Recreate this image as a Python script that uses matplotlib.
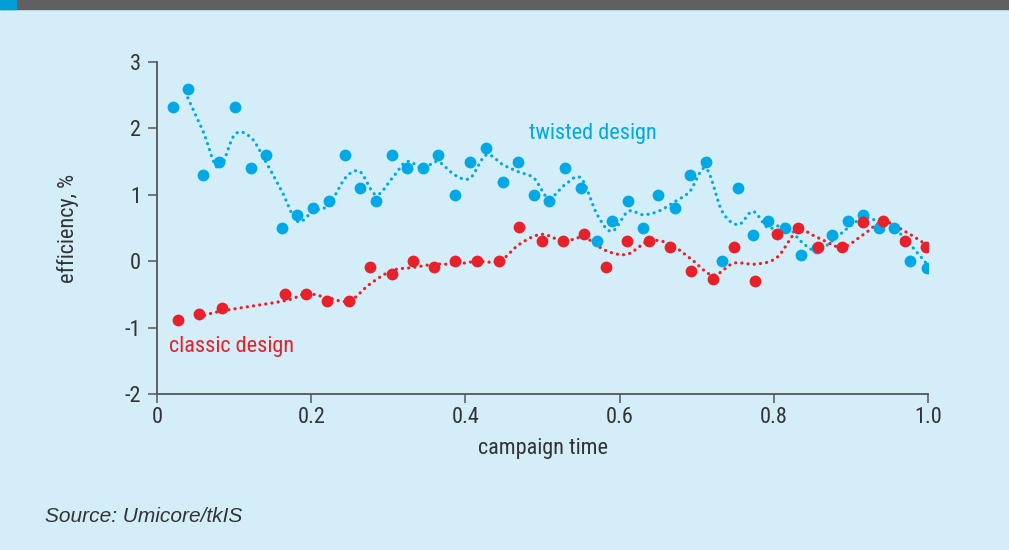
import numpy as np
import pandas as pd
import matplotlib
matplotlib.use('Agg')
from matplotlib import pyplot as plt
from matplotlib.patches import Rectangle
from matplotlib import font_manager

# twisted design (blue)
twisted_x = [0.021, 0.040, 0.060, 0.080, 0.101, 0.122, 0.141, 0.162, 0.182, 0.202,
             0.223, 0.244, 0.263, 0.284, 0.305, 0.324, 0.345, 0.364, 0.386, 0.406,
             0.427, 0.449, 0.468, 0.489, 0.508, 0.529, 0.550, 0.571, 0.590, 0.611,
             0.630, 0.650, 0.672, 0.691, 0.712, 0.733, 0.754, 0.773, 0.793, 0.815,
             0.835, 0.856, 0.875, 0.896, 0.916, 0.936, 0.956, 0.977, 0.999]
twisted_y = [2.32, 2.60, 1.30, 1.50, 2.32, 1.40, 1.60, 0.50, 0.70, 0.80,
             0.90, 1.60, 1.10, 0.90, 1.60, 1.40, 1.40, 1.60, 1.00, 1.50,
             1.70, 1.20, 1.50, 1.00, 0.90, 1.40, 1.10, 0.30, 0.60, 0.90,
             0.50, 1.00, 0.80, 1.30, 1.50, 0.00, 1.10, 0.40, 0.60, 0.50,
             0.10, 0.20, 0.40, 0.60, 0.70, 0.50, 0.50, 0.00, -0.10]

# classic design (red)
classic_x = [0.027, 0.054, 0.084, 0.166, 0.193, 0.220, 0.249, 0.276, 0.305, 0.332,
             0.359, 0.387, 0.415, 0.444, 0.470, 0.499, 0.527, 0.554, 0.582, 0.610,
             0.638, 0.665, 0.693, 0.721, 0.748, 0.776, 0.804, 0.831, 0.857, 0.888,
             0.916, 0.942, 0.970, 0.997]
classic_y = [-0.89, -0.80, -0.70, -0.49, -0.49, -0.60, -0.60, -0.09, -0.19, 0.00,
             -0.09, 0.00, 0.00, 0.00, 0.51, 0.30, 0.30, 0.41, -0.09, 0.30,
             0.31, 0.21, -0.15, -0.27, 0.21, -0.30, 0.41, 0.50, 0.21, 0.21,
             0.59, 0.60, 0.30, 0.21]

x_ticks = [0, 0.2, 0.4, 0.6, 0.8, 1.0]
x_tick_labels = ['0', '0.2', '0.4', '0.6', '0.8', '1.0']
y_ticks = [-2, -1, 0, 1, 2, 3]

BG = '#d3eef9'
BLUE = '#00a8e6'
RED = '#e8202a'
AXC = '#555555'
TXT = '#333333'


def moving_avg(xs, ys):
    # two-period moving average trendline, plotted smooth (Catmull-Rom)
    m = pd.Series(ys).rolling(2).mean().to_numpy()[1:]
    px = np.array(xs[1:])
    pts = np.column_stack([px, m])
    pts = np.vstack([pts[0], pts, pts[-1]])
    out = []
    t = np.linspace(0, 1, 12, endpoint=False)[:, None]
    for i in range(1, len(pts) - 2):
        p0, p1, p2, p3 = pts[i - 1], pts[i], pts[i + 1], pts[i + 2]
        seg = 0.5 * ((2 * p1) + (-p0 + p2) * t
                     + (2 * p0 - 5 * p1 + 4 * p2 - p3) * t ** 2
                     + (-p0 + 3 * p1 - 3 * p2 + p3) * t ** 3)
        out.append(seg)
    out.append(pts[-2][None, :])
    out = np.vstack(out)
    return out[:, 0], out[:, 1]


names = {f.name for f in font_manager.fontManager.ttflist}
narrow = [n for n in ('Liberation Sans Narrow', 'Roboto Condensed', 'DejaVu Sans Condensed')
          if n in names]
plt.rcParams['font.family'] = narrow + ['DejaVu Sans']
plt.rcParams['font.stretch'] = 'condensed'
plt.rcParams['axes.unicode_minus'] = False
FS = 16 if narrow else 14

fig = plt.figure(figsize=(10.09, 5.5), dpi=100, facecolor=BG)
fig.patches.append(Rectangle((0, 1 - 9 / 550), 1, 9 / 550, transform=fig.transFigure,
                             color='#606062', zorder=5))
fig.patches.append(Rectangle((0, 1 - 9 / 550), 16 / 1009, 9 / 550, transform=fig.transFigure,
                             color='#009fda', zorder=6))

ax = fig.add_axes([157 / 1009, 1 - 394 / 550, 771 / 1009, 332 / 550])
ax.set_facecolor(BG)

dot = (0, (0.05, 1.9))
for xs, ys, c in ((twisted_x, twisted_y, BLUE), (classic_x, classic_y, RED)):
    lx, ly = moving_avg(xs, ys)
    ax.plot(lx, ly, color=c, lw=2.3, linestyle=dot, dash_capstyle='round', zorder=2)
    ax.plot(xs, ys, 'o', color=c, ms=8.5, mec='none', zorder=3)

ax.text(0.565, 1.92, 'twisted design', color=BLUE, fontsize=FS, ha='center', va='center')
ax.text(0.097, -1.28, 'classic design', color=RED, fontsize=FS, ha='center', va='center')

ax.set_xlim(0, 1.0)
ax.set_ylim(-2, 3)
ax.set_xticks(x_ticks, x_tick_labels)
ax.set_yticks(y_ticks)
for s in ('top', 'right'):
    ax.spines[s].set_visible(False)
for s in ('left', 'bottom'):
    ax.spines[s].set_color(AXC)
    ax.spines[s].set_linewidth(1.3)
ax.tick_params(colors=AXC, labelcolor=TXT, labelsize=FS, width=1.1, length=6.5)
ax.tick_params(axis='x', pad=3)
ax.tick_params(axis='y', pad=5)
ax.set_xlabel('campaign time', fontsize=FS, color=TXT, va='center')
ax.xaxis.set_label_coords(0.5, -0.165)
ax.set_ylabel('efficiency, %', fontsize=FS, color=TXT, va='center')
ax.yaxis.set_label_coords(-0.115, 0.5)

fig.text(45 / 1009, 1 - 517 / 550, 'Source: Umicore/tkIS', fontsize=15, style='italic',
         color=TXT, family=['Liberation Sans', 'DejaVu Sans'], stretch='normal',
         va='center')

fig.savefig('out.png', dpi=100, facecolor=BG)
